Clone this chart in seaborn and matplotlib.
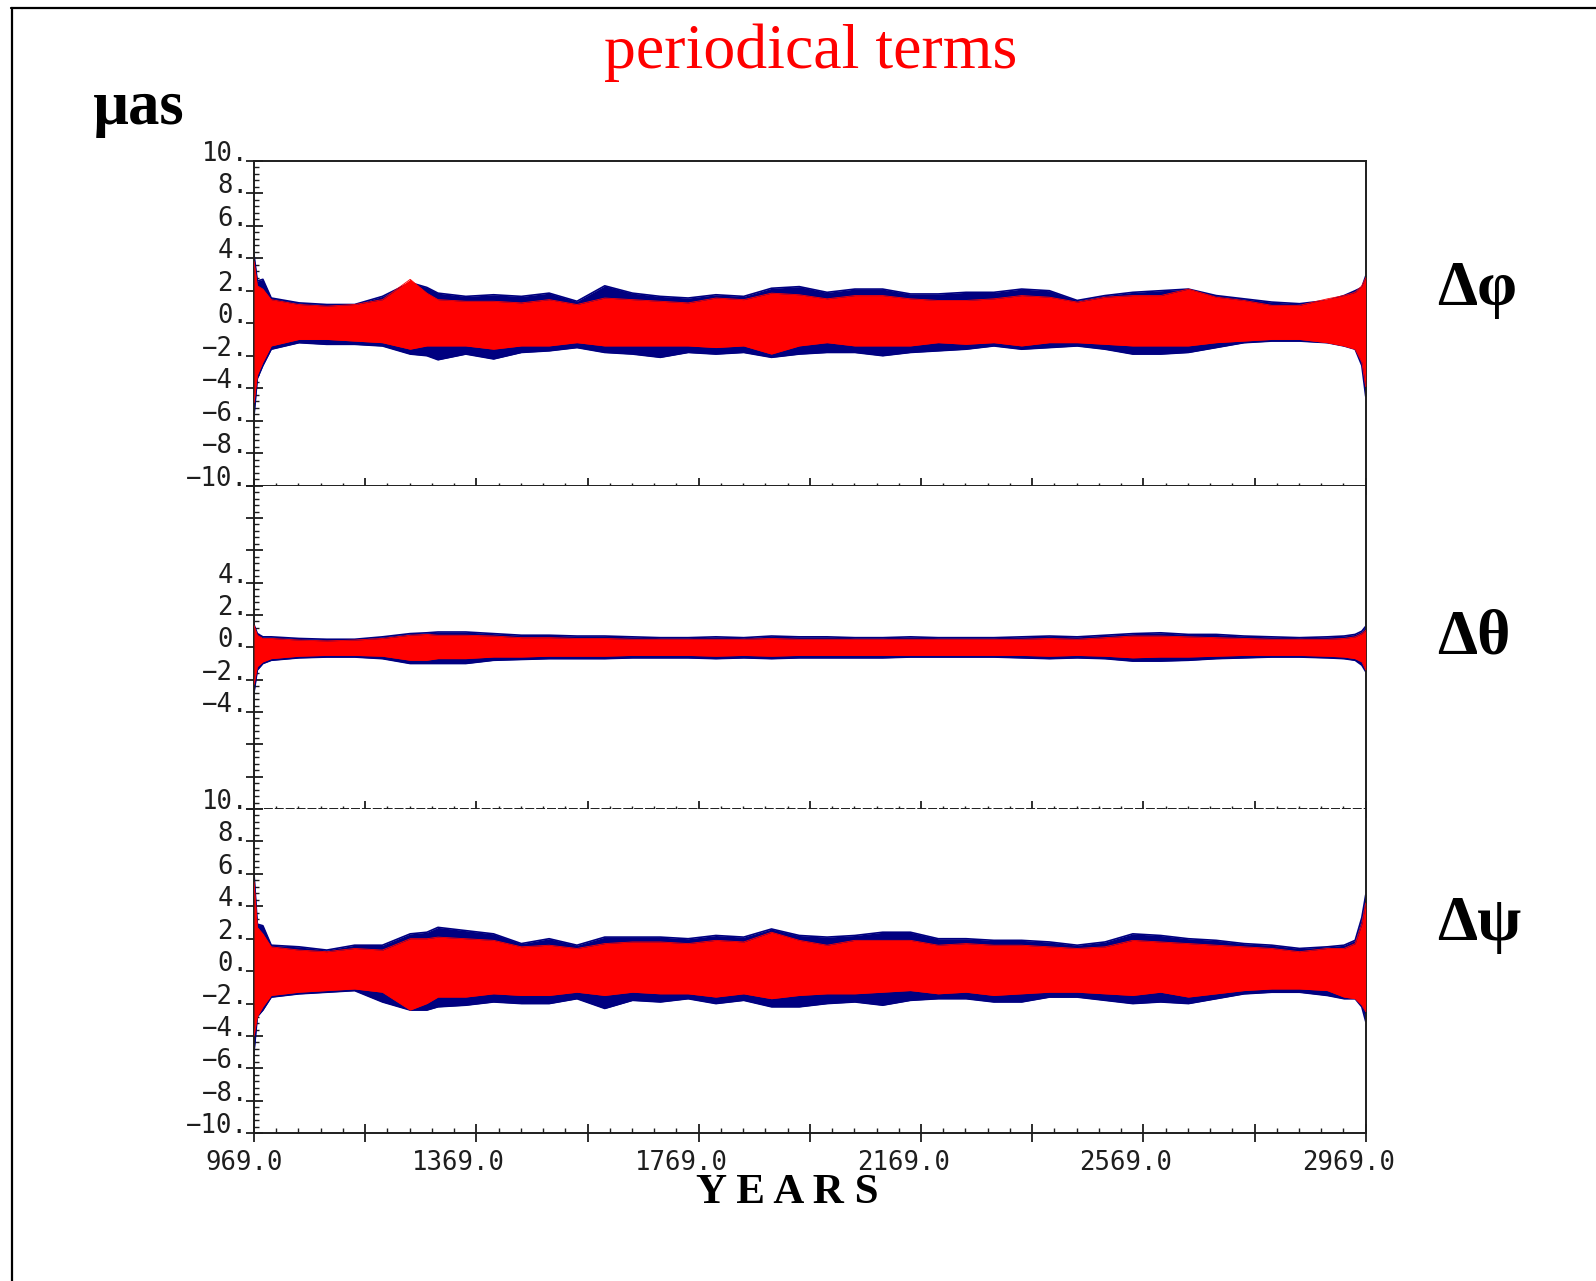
import numpy as np
import pandas as pd
import seaborn as sns
import matplotlib
matplotlib.use("Agg")
import matplotlib.pyplot as plt
from matplotlib.ticker import FixedLocator, FuncFormatter
from matplotlib.transforms import ScaledTranslation
from matplotlib.lines import Line2D

# ---------------- data (envelopes, µas) ----------------
years = [969, 975, 985, 1000, 1050, 1100, 1150, 1200, 1250, 1280, 1300, 1350, 1400,
         1450, 1500, 1550, 1600, 1650, 1700, 1750, 1800, 1850, 1900, 1950, 2000, 2050,
         2100, 2150, 2200, 2250, 2300, 2350, 2400, 2450, 2500, 2550, 2600, 2650, 2700,
         2750, 2800, 2850, 2900, 2930, 2950, 2962, 2969]

# Δφ
phi_blue_up = [4.2, 2.6, 2.7, 1.55, 1.25, 1.15, 1.15, 1.65, 2.5, 2.2, 1.85, 1.65, 1.75,
               1.65, 1.85, 1.35, 2.3, 1.85, 1.65, 1.55, 1.75, 1.65, 2.15, 2.25, 1.9, 2.1,
               2.1, 1.8, 1.8, 1.9, 1.9, 2.1, 2.0, 1.4, 1.7, 1.9, 2.0, 2.1, 1.7,
               1.5, 1.3, 1.2, 1.4, 1.7, 2.0, 2.2, 2.9]
phi_red_up = [3.8, 2.3, 2.1, 1.45, 1.15, 1.05, 1.15, 1.45, 2.7, 1.85, 1.45, 1.35, 1.35,
              1.25, 1.45, 1.15, 1.55, 1.45, 1.35, 1.25, 1.55, 1.45, 1.85, 1.75, 1.5, 1.7,
              1.7, 1.5, 1.4, 1.4, 1.5, 1.7, 1.6, 1.3, 1.6, 1.7, 1.7, 2.1, 1.6,
              1.4, 1.1, 1.1, 1.5, 1.7, 1.9, 2.3, 2.8]
phi_red_lo = [-4.9, -3.2, -2.4, -1.4, -1.0, -1.0, -1.1, -1.2, -1.6, -1.4, -1.4, -1.4, -1.6,
              -1.4, -1.4, -1.2, -1.4, -1.4, -1.4, -1.4, -1.5, -1.4, -1.9, -1.4, -1.2, -1.4,
              -1.4, -1.4, -1.2, -1.3, -1.2, -1.4, -1.2, -1.2, -1.3, -1.4, -1.4, -1.4, -1.2,
              -1.1, -1.0, -1.0, -1.2, -1.4, -1.6, -2.4, -3.9]
phi_blue_lo = [-5.7, -3.4, -2.6, -1.6, -1.2, -1.3, -1.3, -1.4, -1.9, -2.0, -2.25, -1.9, -2.2,
               -1.8, -1.7, -1.5, -1.8, -1.9, -2.1, -1.8, -1.9, -1.8, -2.1, -1.9, -1.8, -1.8,
               -2.0, -1.8, -1.7, -1.6, -1.4, -1.6, -1.5, -1.4, -1.6, -1.9, -1.9, -1.8, -1.5,
               -1.2, -1.1, -1.1, -1.2, -1.4, -1.6, -2.6, -4.5]

# Δθ
theta_blue_up = [1.4, 0.85, 0.65, 0.65, 0.55, 0.5, 0.5, 0.65, 0.85, 0.9, 0.95, 0.95, 0.85,
                 0.75, 0.75, 0.7, 0.7, 0.65, 0.6, 0.6, 0.65, 0.6, 0.7, 0.65, 0.65, 0.6,
                 0.6, 0.65, 0.6, 0.6, 0.6, 0.65, 0.7, 0.65, 0.75, 0.85, 0.9, 0.8, 0.8,
                 0.7, 0.65, 0.6, 0.65, 0.7, 0.8, 1.0, 1.3]
theta_red_up = [1.35, 0.75, 0.55, 0.55, 0.45, 0.4, 0.45, 0.55, 0.75, 0.8, 0.75, 0.75, 0.7,
                0.6, 0.6, 0.55, 0.55, 0.5, 0.5, 0.5, 0.5, 0.5, 0.55, 0.5, 0.5, 0.5,
                0.5, 0.5, 0.5, 0.5, 0.5, 0.5, 0.55, 0.5, 0.6, 0.7, 0.7, 0.65, 0.6,
                0.55, 0.5, 0.5, 0.5, 0.55, 0.65, 0.85, 1.05]
theta_red_lo = [-2.3, -1.2, -0.9, -0.7, -0.55, -0.5, -0.5, -0.55, -0.8, -0.8, -0.7, -0.7, -0.6,
                -0.6, -0.55, -0.55, -0.55, -0.5, -0.5, -0.5, -0.55, -0.5, -0.55, -0.5, -0.5, -0.5,
                -0.5, -0.5, -0.5, -0.5, -0.5, -0.5, -0.55, -0.5, -0.55, -0.65, -0.6, -0.6, -0.55,
                -0.5, -0.5, -0.5, -0.55, -0.6, -0.7, -0.9, -1.4]
theta_blue_lo = [-2.8, -1.4, -1.0, -0.8, -0.65, -0.6, -0.6, -0.7, -1.0, -1.0, -1.0, -1.0, -0.8,
                 -0.75, -0.7, -0.7, -0.7, -0.65, -0.65, -0.65, -0.7, -0.65, -0.7, -0.65, -0.65, -0.65,
                 -0.65, -0.6, -0.6, -0.6, -0.6, -0.65, -0.7, -0.65, -0.7, -0.85, -0.85, -0.8, -0.7,
                 -0.65, -0.6, -0.6, -0.65, -0.7, -0.8, -1.1, -1.5]

# Δψ
psi_blue_up = [6.0, 2.9, 2.8, 1.6, 1.5, 1.3, 1.6, 1.6, 2.3, 2.4, 2.7, 2.5, 2.3,
               1.7, 2.0, 1.6, 2.1, 2.1, 2.1, 2.0, 2.2, 2.1, 2.6, 2.2, 2.1, 2.2,
               2.4, 2.4, 2.0, 2.0, 1.9, 1.9, 1.8, 1.6, 1.8, 2.3, 2.2, 2.0, 1.9,
               1.7, 1.6, 1.4, 1.5, 1.6, 1.9, 3.3, 4.7]
psi_red_up = [5.5, 2.7, 2.3, 1.5, 1.3, 1.2, 1.4, 1.3, 2.0, 2.0, 2.1, 2.0, 1.9,
              1.5, 1.6, 1.4, 1.7, 1.8, 1.8, 1.7, 1.9, 1.8, 2.4, 1.9, 1.6, 1.9,
              1.9, 1.9, 1.6, 1.7, 1.6, 1.6, 1.5, 1.4, 1.5, 1.9, 1.8, 1.7, 1.6,
              1.5, 1.4, 1.2, 1.4, 1.4, 1.7, 2.9, 4.2]
psi_red_lo = [-4.0, -2.8, -2.2, -1.5, -1.3, -1.2, -1.1, -1.3, -2.4, -2.0, -1.6, -1.6, -1.4,
              -1.5, -1.5, -1.3, -1.5, -1.3, -1.4, -1.4, -1.6, -1.4, -1.7, -1.5, -1.4, -1.4,
              -1.3, -1.2, -1.4, -1.3, -1.5, -1.4, -1.3, -1.3, -1.4, -1.5, -1.3, -1.6, -1.4,
              -1.2, -1.1, -1.1, -1.2, -1.6, -1.7, -2.1, -2.5]
psi_blue_lo = [-5.0, -2.8, -2.4, -1.6, -1.4, -1.3, -1.2, -1.9, -2.4, -2.4, -2.2, -2.1, -1.9,
               -2.0, -2.0, -1.7, -2.3, -1.8, -1.9, -1.7, -2.0, -1.8, -2.2, -2.2, -2.0, -1.9,
               -2.1, -1.8, -1.7, -1.7, -1.9, -1.9, -1.6, -1.6, -1.8, -2.0, -1.9, -2.0, -1.7,
               -1.4, -1.3, -1.3, -1.5, -1.7, -1.7, -2.2, -3.1]

panel_names = ["Δφ", "Δθ", "Δψ"]
y_major = [-10, -8, -6, -4, -2, 0, 2, 4, 6, 8, 10]
x_major = [969, 1169, 1369, 1569, 1769, 1969, 2169, 2369, 2569, 2769, 2969]
x_labelled = [969, 1369, 1769, 2169, 2569, 2969]

# ---------------- style ----------------
sns.set_theme(style="ticks")
plt.rcParams["font.family"] = ["DejaVu Sans Mono", "DejaVu Sans"]

BLUE = "#000080"
RED = "#ff0000"
INK = "#1e1e1e"
W, H = 1596, 1281
fig = plt.figure(figsize=(W / 100, H / 100), dpi=100)
fig.patch.set_facecolor("white")

left = 254 / W
width = (1365.7 - 254) / W
tops = [160.7, 485.7, 809.0]
bots = [485.7, 809.0, 1133.3]

panels = [
    (phi_blue_up, phi_blue_lo, phi_red_up, phi_red_lo),
    (theta_blue_up, theta_blue_lo, theta_red_up, theta_red_lo),
    (psi_blue_up, psi_blue_lo, psi_red_up, psi_red_lo),
]


def ylab(v):
    n = int(round(v))
    return ("\u2212" if n < 0 else "") + f"{abs(n)}."


px = 0.72  # points per pixel at 100 dpi
TICKFS = 18.5
for i, (bu, bl, ru, rl) in enumerate(panels):
    ax = fig.add_axes([left, 1 - bots[i] / H, width, (bots[i] - tops[i]) / H])
    ax.set_facecolor("white")
    df = pd.DataFrame({"year": years, "bu": bu, "bl": bl, "ru": ru, "rl": rl})
    ax.fill_between(df["year"], df["bl"], df["bu"], color=BLUE, lw=0, zorder=2)
    for col in ["bu", "bl"]:
        sns.lineplot(data=df, x="year", y=col, ax=ax, color=BLUE, lw=1.2,
                     estimator=None, sort=False, zorder=2)
    ax.fill_between(df["year"], df["rl"], df["ru"], color=RED, lw=0, zorder=3)
    for col in ["ru", "rl"]:
        sns.lineplot(data=df, x="year", y=col, ax=ax, color=RED, lw=0.6,
                     estimator=None, sort=False, zorder=3)
    ax.set_xlim(969, 2969)
    ax.set_ylim(-10, 10)
    ax.set_xlabel("")
    ax.set_ylabel("")

    # spines
    for s in ax.spines.values():
        s.set_color(INK)
        s.set_linewidth(1.4)
    ax.spines["top"].set_visible(i == 0)
    if i == 1:
        ax.spines["bottom"].set_linestyle((0, (3.6, 2.0)))

    # y ticks
    ax.yaxis.set_major_locator(FixedLocator(y_major))
    ax.yaxis.set_minor_locator(FixedLocator(np.arange(-10, 10.01, 0.4)))
    if i == 1:
        fmt = FuncFormatter(lambda v, p: ylab(v) if abs(v) <= 4.01 else "")
    else:
        fmt = FuncFormatter(lambda v, p: ylab(v))
    ax.yaxis.set_major_formatter(fmt)
    ax.tick_params(axis="y", which="major", direction="inout", length=17 * px,
                   width=1.3, color=INK, labelsize=TICKFS, labelcolor=INK, pad=-2.0,
                   left=True, right=False)
    ax.tick_params(axis="y", which="minor", direction="in", length=5 * px,
                   width=1.0, color=INK, left=True, right=False)
    for lbl in ax.get_yticklabels():
        lbl.set_va("baseline")

    # x ticks
    ax.xaxis.set_major_locator(FixedLocator(x_major))
    ax.xaxis.set_minor_locator(FixedLocator(np.arange(969, 2970, 40)))
    if i < 2:
        ax.tick_params(axis="x", which="major", direction="inout", length=17 * px,
                       width=1.3, color=INK, labelbottom=False, top=False, bottom=True)
        ax.tick_params(axis="x", which="minor", direction="inout", length=7 * px,
                       width=1.0, color=INK, top=False, bottom=True)
    else:
        ax.xaxis.set_major_formatter(FuncFormatter(
            lambda v, p: f"{v:.1f}" if int(round(v)) in x_labelled else ""))
        ax.tick_params(axis="x", which="major", direction="inout", length=18 * px,
                       width=1.3, color=INK, labelsize=TICKFS, labelcolor=INK, pad=5.5,
                       top=False, bottom=True)
        ax.tick_params(axis="x", which="minor", direction="in", length=5 * px,
                       width=1.0, color=INK, top=False, bottom=True)
        shift = ScaledTranslation(0.29, 0, fig.dpi_scale_trans)
        for lbl in ax.get_xticklabels():
            lbl.set_ha("right")
            lbl.set_transform(lbl.get_transform() + shift)
    ax.grid(False)

# ---------------- texts ----------------
serif = ["Liberation Serif", "DejaVu Serif"]
fig.text(811 / W, 1 - 68.3 / H, "periodical terms", color=RED, fontsize=46,
         family=serif, ha="center", va="baseline")
fig.text(93 / W, 1 - 124 / H, "µas", color="black", fontsize=45, fontweight="bold",
         family=serif, ha="left", va="baseline")
for name, base in zip(panel_names, [305, 653, 940]):
    fig.text(1437 / W, 1 - base / H, name, color="black", fontsize=46,
             fontweight="bold", family=serif, ha="left", va="baseline")
fig.text(787 / W, 1 - 1202.7 / H, "Y E A R S", color="black", fontsize=31,
         fontweight="bold", family=serif, ha="center", va="baseline")

# slide frame
fig.add_artist(Line2D([11 / W, 1], [1 - 7.5 / H, 1 - 7.5 / H], color="black",
                      lw=1.6, transform=fig.transFigure))
fig.add_artist(Line2D([11.5 / W, 11.5 / W], [0, 1 - 7.5 / H], color="black",
                      lw=1.6, transform=fig.transFigure))

fig.savefig("out.png", dpi=100, facecolor="white")
